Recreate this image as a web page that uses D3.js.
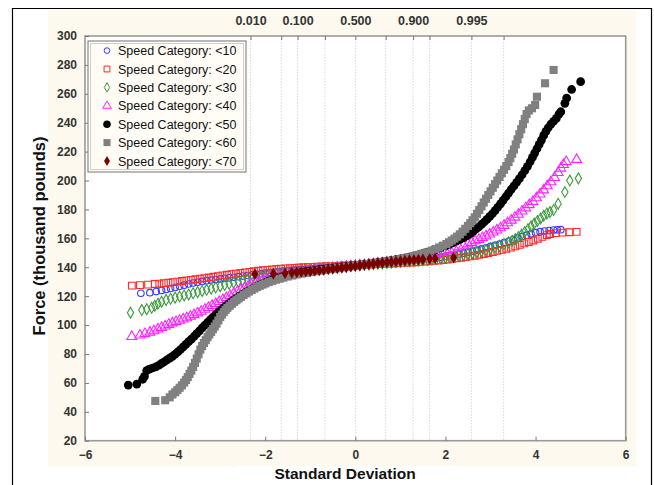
<!DOCTYPE html>
<html>
<head>
<meta charset="utf-8">
<script src="https://cdn.jsdelivr.net/npm/d3@7"></script>
<style>
  body { margin: 0; background: #fff; }
  svg { display: block; font-family: Arial, "Liberation Sans", sans-serif; }
</style>
</head>
<body>
<svg id="chart" width="654" height="485"></svg>
<script>
// categories shown in the legend
const categories = ['<10', '<20', '<30', '<40', '<50', '<60', '<70'];

// normal-score (z) / force pairs, one array per speed category
const lt10 = [[-4.76,122],[-4.56,122.4],[-4.42,123.2],[-4.3,124],[-4.2,124.6],[-4.1,125.3],[-4,126],[-3.9,126.8],[-3.8,127.6],[-3.7,128.4],[-3.6,129.1],[-3.5,129.7],[-3.4,130.2],[-3.3,130.7],[-3.2,131.1],[-3.1,131.5],[-3,131.9],[-2.9,132.3],[-2.8,132.7],[-2.7,133.1],[-2.6,133.5],[-2.5,133.9],[-2.4,134.3],[-2.3,134.7],[-2.2,135.1],[-2.1,135.5],[-2,135.9],[-1.9,136.3],[-1.8,136.7],[-1.7,137],[-1.6,137.3],[-1.5,137.7],[-1.4,138],[-1.3,138.3],[-1.2,138.5],[-1.1,138.8],[-1,139.1],[-0.9,139.3],[-0.8,139.6],[-0.7,139.8],[-0.6,140],[-0.5,140.3],[-0.4,140.5],[-0.3,140.8],[-0.2,141],[-0.1,141.2],[0,141.4],[0.1,141.7],[0.2,141.9],[0.3,142.2],[0.4,142.4],[0.5,142.7],[0.6,142.9],[0.7,143.2],[0.8,143.4],[0.9,143.7],[1,143.9],[1.1,144.2],[1.2,144.5],[1.3,144.8],[1.4,145.1],[1.5,145.5],[1.6,145.8],[1.7,146.2],[1.8,146.6],[1.9,147],[2,147.5],[2.1,148],[2.2,148.5],[2.3,149.2],[2.4,149.8],[2.5,150.5],[2.6,151.2],[2.7,151.9],[2.8,152.7],[2.9,153.5],[3,154.4],[3.1,155.2],[3.2,156.1],[3.3,157],[3.4,158],[3.5,159],[3.6,160.1],[3.7,161.2],[3.8,162.2],[3.9,163.1],[4,163.9],[4.1,164.6],[4.2,165.1],[4.3,165.4],[4.4,165.7],[4.48,165.9],[4.56,166]];
const lt20 = [[-4.96,127.3],[-4.78,127.6],[-4.6,128],[-4.45,128.4],[-4.35,128.7],[-4.25,129],[-4.15,129.3],[-4.05,129.7],[-3.95,130.1],[-3.85,130.5],[-3.75,130.9],[-3.65,131.3],[-3.55,131.7],[-3.45,132.1],[-3.35,132.5],[-3.25,132.9],[-3.15,133.4],[-3.05,133.9],[-2.95,134.4],[-2.85,134.8],[-2.75,135.2],[-2.65,135.6],[-2.55,136],[-2.45,136.4],[-2.35,136.8],[-2.25,137.2],[-2.15,137.6],[-2.05,137.9],[-1.95,138.2],[-1.85,138.5],[-1.75,138.8],[-1.65,139],[-1.55,139.2],[-1.45,139.4],[-1.35,139.6],[-1.25,139.8],[-1.15,140],[-1.05,140.1],[-0.95,140.3],[-0.85,140.4],[-0.75,140.5],[-0.65,140.7],[-0.55,140.8],[-0.45,140.9],[-0.35,141.1],[-0.25,141.2],[-0.15,141.3],[-0.05,141.4],[0.05,141.6],[0.15,141.7],[0.25,141.8],[0.35,141.9],[0.45,142.1],[0.55,142.2],[0.65,142.3],[0.75,142.5],[0.85,142.6],[0.95,142.8],[1.05,143],[1.15,143.1],[1.25,143.3],[1.35,143.5],[1.45,143.7],[1.55,143.9],[1.65,144.2],[1.75,144.4],[1.85,144.7],[1.95,145],[2.05,145.4],[2.15,145.8],[2.25,146.2],[2.35,146.6],[2.45,147],[2.55,147.5],[2.65,148],[2.75,148.6],[2.85,149.2],[2.95,149.9],[3.05,150.6],[3.15,151.3],[3.25,152],[3.35,152.8],[3.45,153.6],[3.55,154.5],[3.65,155.5],[3.75,156.5],[3.85,157.5],[3.95,158.5],[4.05,159.7],[4.15,161],[4.25,162.2],[4.32,163],[4.45,163.6],[4.6,164],[4.75,164.2],[4.91,164.5]];
const lt30 = [[-4.99,108.6],[-4.74,110.4],[-4.63,111],[-4.52,112],[-4.45,113.3],[-4.38,114.8],[-4.3,116.2],[-4.2,117.3],[-4.1,118.2],[-4,119],[-3.9,119.7],[-3.8,120.5],[-3.7,121.2],[-3.6,122],[-3.5,122.8],[-3.4,123.6],[-3.3,124.4],[-3.2,125.2],[-3.1,126],[-3,126.9],[-2.9,127.7],[-2.8,128.6],[-2.7,129.3],[-2.6,130.1],[-2.5,130.8],[-2.4,131.5],[-2.3,132.1],[-2.2,132.6],[-2.1,133.2],[-2,133.7],[-1.9,134.2],[-1.8,134.7],[-1.7,135.2],[-1.6,135.7],[-1.5,136.2],[-1.4,136.6],[-1.3,137],[-1.2,137.4],[-1.1,137.8],[-1,138.2],[-0.9,138.6],[-0.8,138.9],[-0.7,139.2],[-0.6,139.5],[-0.5,139.8],[-0.4,140.1],[-0.3,140.4],[-0.2,140.7],[-0.1,141],[0,141.2],[0.1,141.5],[0.2,141.7],[0.3,142],[0.4,142.2],[0.5,142.5],[0.6,142.7],[0.7,143],[0.8,143.2],[0.9,143.5],[1,143.7],[1.1,144],[1.2,144.2],[1.3,144.5],[1.4,144.7],[1.5,145],[1.6,145.3],[1.7,145.6],[1.8,145.9],[1.9,146.2],[2,146.6],[2.1,147],[2.2,147.5],[2.3,148.1],[2.4,148.6],[2.5,149.2],[2.6,149.8],[2.7,150.5],[2.8,151.2],[2.9,152],[3,152.9],[3.1,153.8],[3.2,154.8],[3.3,155.9],[3.4,157.1],[3.48,158.4],[3.55,159.6],[3.62,161],[3.69,162.6],[3.76,164.4],[3.83,166.3],[3.9,168.3],[3.97,170.2],[4.04,172],[4.11,173.8],[4.18,175.6],[4.25,177.2],[4.32,178.2],[4.4,179.6],[4.5,184],[4.65,192],[4.76,200],[4.95,201.5]];
const lt40 = [[-4.96,92],[-4.78,93],[-4.67,94],[-4.56,95],[-4.47,96],[-4.38,97.2],[-4.3,98.3],[-4.22,99.3],[-4.14,100.4],[-4.06,101.4],[-3.98,102.3],[-3.9,103.2],[-3.82,104.1],[-3.74,105],[-3.66,106],[-3.58,107.1],[-3.5,108.3],[-3.42,109.5],[-3.34,110.8],[-3.26,112.1],[-3.18,113.5],[-3.1,114.8],[-3.02,116.2],[-2.94,117.6],[-2.86,119],[-2.78,120.4],[-2.7,121.8],[-2.62,123.1],[-2.54,124.4],[-2.46,125.7],[-2.38,126.8],[-2.3,127.9],[-2.22,128.9],[-2.14,129.9],[-2.06,130.8],[-1.98,131.6],[-1.9,132.4],[-1.8,133.2],[-1.7,133.9],[-1.6,134.6],[-1.5,135.2],[-1.4,135.8],[-1.3,136.3],[-1.2,136.8],[-1.1,137.2],[-1,137.6],[-0.9,138],[-0.8,138.3],[-0.7,138.7],[-0.6,139],[-0.5,139.4],[-0.4,139.7],[-0.3,140],[-0.2,140.4],[-0.1,140.7],[0,141],[0.1,141.3],[0.2,141.6],[0.3,142],[0.4,142.3],[0.5,142.7],[0.6,143],[0.7,143.4],[0.8,143.8],[0.9,144.2],[1,144.6],[1.1,145.1],[1.2,145.6],[1.3,146.1],[1.4,146.7],[1.5,147.3],[1.6,148],[1.7,148.7],[1.8,149.5],[1.9,150.3],[2,151.2],[2.1,152.1],[2.2,153],[2.3,154],[2.4,155.1],[2.5,156.1],[2.58,157.1],[2.66,158.2],[2.74,159.2],[2.82,160.4],[2.9,161.6],[2.98,162.9],[3.06,164.3],[3.14,165.7],[3.22,167.2],[3.3,168.9],[3.38,170.7],[3.46,172.5],[3.54,174.6],[3.62,176.6],[3.7,178.8],[3.78,181],[3.86,183.2],[3.94,185.5],[4.02,188],[4.1,190.6],[4.18,193.4],[4.26,196.3],[4.34,199.1],[4.42,202],[4.5,205.5],[4.56,208.5],[4.62,211],[4.68,213],[4.91,214.5]];
const lt50 = [[-5.04,58.5],[-4.85,59.2],[-4.72,62.5],[-4.68,64.5],[-4.63,68.5],[-4.57,69.5],[-4.5,70.3],[-4.43,71],[-4.36,72.2],[-4.3,73.5],[-4.24,74.6],[-4.18,75.9],[-4.12,77.1],[-4.06,78.4],[-4,79.8],[-3.94,81.4],[-3.88,83.1],[-3.82,84.9],[-3.76,86.7],[-3.7,88.5],[-3.64,90.3],[-3.58,92.1],[-3.52,94.1],[-3.46,96],[-3.4,98],[-3.34,99.9],[-3.28,101.8],[-3.22,103.7],[-3.16,105.5],[-3.1,107.3],[-3.04,109],[-2.98,110.6],[-2.92,112.1],[-2.86,113.6],[-2.8,115],[-2.74,116.4],[-2.68,117.7],[-2.62,119],[-2.56,120.2],[-2.5,121.3],[-2.44,122.5],[-2.38,123.6],[-2.32,124.6],[-2.26,125.6],[-2.2,126.6],[-2.12,127.8],[-2.04,128.9],[-1.96,130],[-1.88,130.9],[-1.8,131.8],[-1.72,132.6],[-1.64,133.3],[-1.56,134],[-1.48,134.6],[-1.4,135.2],[-1.3,135.8],[-1.2,136.4],[-1.1,136.9],[-1,137.4],[-0.9,137.9],[-0.8,138.3],[-0.7,138.7],[-0.6,139.1],[-0.5,139.4],[-0.4,139.8],[-0.3,140.2],[-0.2,140.5],[-0.1,140.9],[0,141.2],[0.1,141.6],[0.2,142],[0.3,142.4],[0.4,142.8],[0.5,143.3],[0.6,143.7],[0.7,144.2],[0.8,144.7],[0.9,145.2],[1,145.8],[1.1,146.4],[1.2,147.1],[1.3,147.8],[1.4,148.6],[1.5,149.5],[1.6,150.4],[1.7,151.4],[1.8,152.4],[1.9,153.6],[2,154.8],[2.08,155.8],[2.16,156.9],[2.24,158],[2.32,159.2],[2.4,160.4],[2.48,161.8],[2.56,163.5],[2.62,165],[2.68,166.5],[2.74,168],[2.8,169.6],[2.86,171.3],[2.92,173.1],[2.98,175],[3.04,177],[3.1,179.2],[3.16,181.5],[3.22,183.8],[3.28,186.3],[3.34,188.8],[3.4,191.3],[3.46,193.9],[3.52,196.3],[3.58,198.8],[3.64,201.3],[3.7,204],[3.76,206.8],[3.82,209.8],[3.88,213],[3.93,216],[3.98,219],[4.03,222],[4.08,225],[4.13,228],[4.18,231.2],[4.23,234],[4.28,236.5],[4.34,239],[4.4,241],[4.46,243],[4.52,246],[4.56,247.6],[4.65,253.4],[4.69,257],[4.8,263],[5,268.4]];
const lt60 = [[-4.44,47.5],[-4.22,48],[-4.12,50],[-4.06,52],[-4,53.5],[-3.95,55],[-3.9,56.6],[-3.85,58.3],[-3.8,60.2],[-3.76,62],[-3.72,64],[-3.68,66.2],[-3.64,68.5],[-3.6,71],[-3.56,73.8],[-3.52,76.8],[-3.48,79.8],[-3.44,83],[-3.4,85.5],[-3.36,87.6],[-3.32,89.6],[-3.28,91.6],[-3.24,93.5],[-3.2,95.3],[-3.16,97.2],[-3.12,99],[-3.08,101],[-3.04,103.2],[-3,105.5],[-2.96,107.3],[-2.92,109],[-2.88,110.5],[-2.84,111.9],[-2.79,113.3],[-2.74,114.7],[-2.69,116],[-2.64,117.2],[-2.59,118.4],[-2.54,119.5],[-2.48,120.8],[-2.42,122],[-2.36,123.2],[-2.3,124.3],[-2.24,125.3],[-2.18,126.3],[-2.12,127.2],[-2.06,128],[-2,128.8],[-1.92,129.7],[-1.84,130.6],[-1.76,131.4],[-1.68,132.1],[-1.6,132.8],[-1.5,133.6],[-1.4,134.3],[-1.3,135],[-1.2,135.6],[-1.1,136.2],[-1,136.7],[-0.9,137.2],[-0.8,137.7],[-0.7,138.1],[-0.6,138.6],[-0.5,139],[-0.4,139.4],[-0.3,139.8],[-0.2,140.2],[-0.1,140.6],[0,141],[0.1,141.4],[0.2,141.8],[0.3,142.2],[0.4,142.6],[0.5,143.1],[0.6,143.5],[0.7,144],[0.8,144.5],[0.9,145],[1,145.6],[1.1,146.2],[1.2,146.9],[1.3,147.7],[1.4,148.5],[1.5,149.4],[1.6,150.4],[1.7,151.5],[1.78,152.6],[1.86,153.7],[1.94,154.9],[2.02,156.1],[2.08,157.3],[2.14,158.5],[2.2,159.8],[2.26,161.2],[2.32,162.8],[2.38,164.6],[2.44,166.6],[2.5,168.6],[2.55,170.5],[2.6,172.5],[2.65,174.5],[2.7,177],[2.75,179.6],[2.8,182.2],[2.85,184.8],[2.9,187.4],[2.95,190],[3,192.5],[3.05,195],[3.1,197.5],[3.15,200],[3.2,202.5],[3.25,205],[3.3,207.5],[3.35,210],[3.4,212.8],[3.44,215.5],[3.48,218.5],[3.52,221.5],[3.56,225],[3.6,228.5],[3.64,232],[3.68,235.5],[3.72,239],[3.76,242.5],[3.8,246],[3.85,248.5],[3.92,250],[3.99,252.3],[4.03,258],[4.21,267.3],[4.4,276.5]];
const lt70 = [[-2.23,135.3],[-1.82,135.5],[-1.56,135.8],[-1.41,136.2],[-1.3,136.5],[-1.2,136.8],[-1.1,137],[-1,137.2],[-0.9,137.5],[-0.8,137.8],[-0.7,138.1],[-0.6,138.5],[-0.5,138.9],[-0.4,139.2],[-0.3,139.6],[-0.2,140],[-0.1,140.4],[0,140.8],[0.1,141.2],[0.2,141.6],[0.3,142],[0.4,142.4],[0.5,142.8],[0.6,143.1],[0.7,143.4],[0.8,143.7],[0.9,144],[1,144.3],[1.1,144.6],[1.2,144.9],[1.3,145.1],[1.4,145.3],[1.5,145.5],[1.65,145.8],[1.77,146.1],[2.18,146.6]];

// axis ticks
const xTicks = [-6, -4, -2, 0, 2, 4, 6];
const yTicks = [20, 40, 60, 80, 100, 120, 140, 160, 180, 200, 220, 240, 260, 280, 300];
// cumulative-probability scale on top: probability and its normal score
const probTicks = [0.01, 0.05, 0.1, 0.25, 0.5, 0.75, 0.9, 0.95, 0.995, 0.9995];
const probZ = [-2.326, -1.645, -1.282, -0.674, 0, 0.674, 1.282, 1.645, 2.576, 3.291];
const probLabels = ['0.010', '', '0.100', '', '0.500', '', '0.900', '', '0.995', ''];

const seriesData = [lt10, lt20, lt30, lt40, lt50, lt60, lt70];
const styles = [
  { symbol: d3.symbolCircle, size: 34, fill: 'none', stroke: '#3a3aff' },
  { symbol: d3.symbolSquare, size: 46, fill: 'none', stroke: '#ff2a2a' },
  { symbol: d3.symbolDiamond, size: 34, fill: 'none', stroke: '#3c9a3c' },
  { symbol: d3.symbolTriangle, size: 42, fill: 'none', stroke: '#ff22ff' },
  { symbol: d3.symbolCircle, size: 60, fill: '#000', stroke: 'none' },
  { symbol: d3.symbolSquare, size: 66, fill: '#808080', stroke: 'none' },
  { symbol: d3.symbolDiamond, size: 40, fill: '#7a0000', stroke: 'none' }
];

const svg = d3.select('#chart');
const plot = { left: 85, right: 625.7, top: 36, bottom: 440.7 };

const xScale = d3.scaleLinear().domain([-6, 6]).range([plot.left, plot.right]);
const yScale = d3.scaleLinear().domain([20, 300]).range([plot.bottom, plot.top]);

// page background + frame
svg.append('rect').attr('x', 48).attr('y', 10).attr('width', 588).attr('height', 457).attr('fill', '#fdf9ee');
svg.append('rect').attr('x', 236).attr('y', 466).attr('width', 219).attr('height', 19).attr('fill', '#fff');
svg.append('path')
  .attr('d', 'M12.5,485 V8.5 H651.5 V485')
  .attr('fill', 'none').attr('stroke', '#000').attr('stroke-width', 1.2);

svg.append('rect')
  .attr('x', plot.left).attr('y', plot.top)
  .attr('width', plot.right - plot.left).attr('height', plot.bottom - plot.top)
  .attr('fill', '#fff');

// vertical grid at probability positions
svg.append('g').selectAll('line')
  .data(probZ)
  .enter()
  .append('line')
  .attr('x1', d => xScale(d)).attr('x2', d => xScale(d))
  .attr('y1', plot.top).attr('y2', plot.bottom)
  .attr('stroke', '#d8d8d8')
  .attr('stroke-dasharray', '1.5,1.5');

// points
seriesData.forEach((pts, i) => {
  const st = styles[i];
  const sym = d3.symbol().type(st.symbol).size(st.size);
  svg.append('g')
    .selectAll('path')
    .data(pts)
    .enter()
    .append('path')
    .attr('transform', d => `translate(${xScale(d[0])},${yScale(d[1])})`)
    .attr('d', sym)
    .attr('fill', st.fill)
    .attr('stroke', st.stroke)
    .attr('stroke-width', 1.1);
});

// plot frame
svg.append('rect')
  .attr('x', plot.left).attr('y', plot.top)
  .attr('width', plot.right - plot.left).attr('height', plot.bottom - plot.top)
  .attr('fill', 'none').attr('stroke', '#9a9a9a').attr('stroke-width', 1.6);

const styleAxis = (g, size) => {
  g.select('.domain').remove();
  g.selectAll('line').attr('stroke', '#777');
  g.selectAll('text')
    .attr('fill', '#333')
    .attr('font-size', size)
    .attr('font-weight', 'bold')
    .attr('font-family', 'Arial, "Liberation Sans", sans-serif');
};

svg.append('g')
  .attr('transform', `translate(0,${plot.bottom})`)
  .call(d3.axisBottom(xScale).tickValues(xTicks).tickSize(-4).tickPadding(10))
  .call(styleAxis, 12);

svg.append('g')
  .attr('transform', `translate(${plot.left},0)`)
  .call(d3.axisLeft(yScale).tickValues(yTicks).tickSize(-4).tickPadding(8))
  .call(styleAxis, 12);

svg.append('g')
  .attr('transform', `translate(0,${plot.top})`)
  .call(d3.axisTop(xScale).tickValues(probZ).tickSize(-4).tickPadding(11)
    .tickFormat((d, i) => probLabels[i]))
  .call(styleAxis, 12.5);

// axis titles
svg.append('text')
  .attr('x', 345).attr('y', 479)
  .attr('text-anchor', 'middle')
  .attr('font-size', 15.5).attr('font-weight', 'bold').attr('fill', '#111')
  .text('Standard Deviation');

svg.append('text')
  .attr('transform', 'translate(45,236) rotate(-90)')
  .attr('text-anchor', 'middle')
  .attr('font-size', 16.5).attr('font-weight', 'bold').attr('fill', '#111')
  .text('Force (thousand pounds)');

// legend
const legend = svg.append('g');
legend.append('rect')
  .attr('x', 88).attr('y', 41).attr('width', 158).attr('height', 131)
  .attr('fill', '#fffdf6').attr('stroke', '#8a8a8a').attr('stroke-width', 1.2);
legend.append('rect')
  .attr('x', 90.5).attr('y', 43.5).attr('width', 153).attr('height', 126)
  .attr('fill', 'none').attr('stroke', '#cfcfcf').attr('stroke-width', 1);

const rows = legend.selectAll('g.row')
  .data(categories)
  .enter()
  .append('g')
  .attr('class', 'row')
  .attr('transform', (d, i) => `translate(107,${50.6 + i * 18.4})`);

rows.append('path')
  .attr('d', (d, i) => d3.symbol().type(styles[i].symbol).size(styles[i].size * 0.75)())
  .attr('fill', (d, i) => styles[i].fill)
  .attr('stroke', (d, i) => styles[i].stroke)
  .attr('stroke-width', 1);

rows.append('text')
  .attr('x', 11).attr('y', 4.5)
  .attr('font-size', 12.5).attr('fill', '#111')
  .text(d => `Speed Category: ${d}`);
</script>
</body>
</html>
